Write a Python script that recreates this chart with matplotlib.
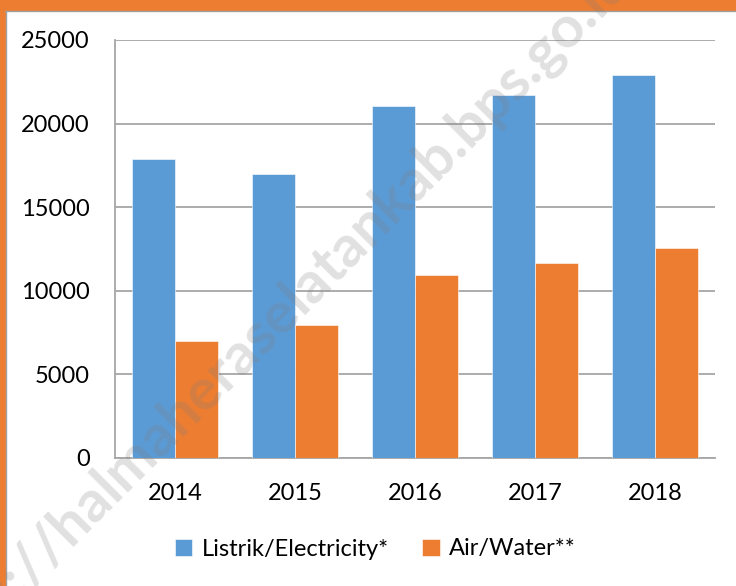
import numpy as np
import matplotlib.pyplot as plt
from matplotlib.patches import Rectangle
from matplotlib.lines import Line2D

# data
years = ["2014", "2015", "2016", "2017", "2018"]
electricity = [17880, 17010, 21040, 21740, 22930]
water = [7000, 7940, 10960, 11640, 12570]
series_names = ["Listrik/Electricity*", "Air/Water**"]
y_ticks = [0, 5000, 10000, 15000, 20000, 25000]

blue = "#5B9BD5"
orange = "#ED7D31"

plt.rcParams["font.family"] = ["Lato", "DejaVu Sans"]

fig = plt.figure(figsize=(7.36, 5.86), dpi=100)
W, H = 736, 586

# orange frame on top and left, thin grey box line inside it
fig.patches.append(Rectangle((0, 1 - 10 / H), 1, 10 / H, transform=fig.transFigure,
                             color=orange, zorder=0))
fig.patches.append(Rectangle((0, 0), 5 / W, 1, transform=fig.transFigure,
                             color=orange, zorder=0))
fig.lines.append(Line2D([5 / W, 1], [1 - 10.5 / H, 1 - 10.5 / H], transform=fig.transFigure,
                        color="#a0a0a0", lw=1))
fig.lines.append(Line2D([5.5 / W, 5.5 / W], [0, 1 - 10.5 / H], transform=fig.transFigure,
                        color="#a0a0a0", lw=1))

ax = fig.add_axes([115 / W, 1 - 458 / H, 600 / W, 418 / H])

x = np.arange(len(years))
bw = 0.362
ax.bar(x - bw / 2, electricity, bw, color=blue, edgecolor="white", linewidth=0.4,
       label=series_names[0], zorder=3)
ax.bar(x + bw / 2, water, bw, color=orange, edgecolor="white", linewidth=0.4,
       label=series_names[1], zorder=3)

ax.set_xlim(-0.5, len(years) - 0.5)
ax.set_ylim(0, 25000)
ax.set_yticks(y_ticks)
ax.set_yticklabels([str(v) for v in y_ticks])
ax.set_xticks(x)
ax.set_xticklabels(years)
ax.tick_params(axis="both", length=0, labelsize=17, colors="black")
ax.tick_params(axis="y", pad=18)
ax.tick_params(axis="x", pad=18)

ax.grid(axis="y", color="#a6a6a6", lw=1.3, zorder=0)
for s in ["top", "right"]:
    ax.spines[s].set_visible(False)
ax.spines["left"].set_color("#a6a6a6")
ax.spines["bottom"].set_color("#a6a6a6")
ax.spines["left"].set_linewidth(1.3)
ax.spines["bottom"].set_linewidth(1.3)

fig.legend(loc="center", bbox_to_anchor=(0.51, 1 - 549 / H), ncol=2, frameon=False,
           fontsize=17, handlelength=0.75, handleheight=0.75, handletextpad=0.4,
           columnspacing=1.4)

# watermark
fig.text(268 / W, 1 - 326 / H, "https://halmaheraselatankab.bps.go.id",
         rotation=45, ha="center", va="center", fontsize=42, fontweight="bold",
         color="#808080", alpha=0.24, zorder=10)

fig.savefig("out.png", dpi=100)
